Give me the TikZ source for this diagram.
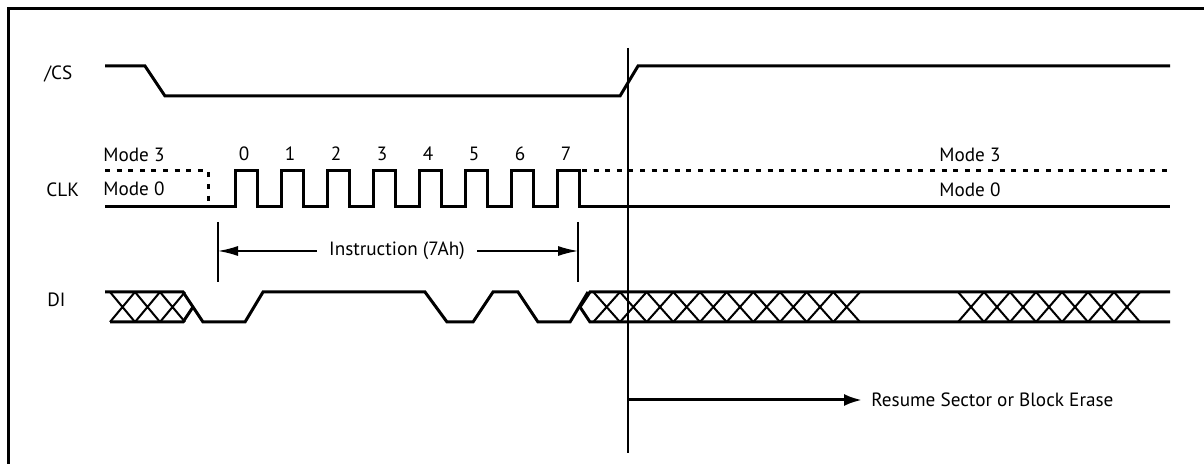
\documentclass[tikz,border=0pt]{standalone}
\usepackage{fontspec}
\setmainfont{PT Sans}
\usetikzlibrary{arrows.meta}

\begin{document}
\begin{tikzpicture}[x=0.5pt, y=-0.5pt,
    sig/.style={line width=1.5pt},
    dots/.style={line width=1.5pt, dash pattern=on 2.5pt off 3.3pt},
    xing/.style={line width=1pt},
    lbl/.style={font=\fontsize{9.6}{11}\selectfont, inner sep=0pt},
    arr/.style={line width=0.75pt, -{Latex[length=10pt, width=5pt]}}]
    \useasboundingbox (0,0) rectangle (1204,464);
    % frame
    \draw[line width=1.5pt] (8,464) -- (8,9) -- (1204,9);

    % signal names
    \node[lbl, anchor=west] (cs) at (44,74) {/CS};
    \node[lbl, anchor=west] (clk) at (46,190) {CLK};
    \node[lbl, anchor=west] (di) at (47,300) {DI};

    % /CS
    \draw[sig] (105,66) -- (145,66) -- (165,96) -- (620,96) -- (638,66) -- (1170,66);

    % CLK: modes and pulses
    \node[lbl, anchor=west] (m3a) at (103,155) {Mode 3};
    \node[lbl, anchor=west] (m0a) at (103,189) {Mode 0};
    \node[lbl] (m3b) at (970,155) {Mode 3};
    \node[lbl] (m0b) at (970,190) {Mode 0};
    \draw[dots] (105,171) -- (208,171) -- (208,207);
    \draw[sig] (105,207) -- (235,207)
        \foreach \k in {0,...,7} { -- ++(0,-36) -- ++(22,0) -- ++(0,36) -- ++(24,0) }
        -- (1170,207);
    \draw[dots] (582,171) -- (1170,171);
    \foreach \k in {0,...,7}
        \node[lbl] (n\k) at (244+46*\k,154) {\k};

    % instruction span
    \coordinate (lbar) at (218,251);
    \coordinate (rbar) at (578,251);
    \draw[line width=1.2pt] (218,222) -- (218,282);
    \draw[line width=1.2pt] (578,222) -- (578,282);
    \node[lbl, inner xsep=6pt] (instr) at (397,251) {Instruction (7Ah)};
    \draw[arr] (instr.west) -- (lbar);
    \draw[arr] (instr.east) -- (rbar);

    % DI
    \draw[sig] (105,292) -- (183,292) -- (203,322) -- (245,322) -- (263,292) -- (425,292)
        -- (447,322) -- (473,322) -- (493,292) -- (518,292) -- (538,322) -- (570,322) -- (588,292);
    \draw[sig] (110,322) -- (183,322) -- (193,307);
    \draw[sig] (580,307) -- (590,292) -- (1170,292);
    \draw[sig] (580,307) -- (590,322) -- (1170,322);
    \foreach \k in {0,1,2}
        \draw[xing] (110+25*\k,292) -- ++(25,30) (110+25*\k,322) -- ++(25,-30);
    \foreach \k in {0,...,9}
        \draw[xing] (593.3+26.67*\k,292) -- ++(26.67,30) (593.3+26.67*\k,322) -- ++(26.67,-30);
    \foreach \k in {0,...,6}
        \draw[xing] (958+26*\k,292) -- ++(26,30) (958+26*\k,322) -- ++(26,-30);

    % end of instruction marker
    \coordinate (vtop) at (628,48);
    \coordinate (vbot) at (628,453);
    \draw[line width=1.2pt] (vtop) -- (vbot);

    % resume
    \coordinate (rs) at (628,400);
    \node[lbl, anchor=west, inner xsep=4.5pt] (resume) at (862,400) {Resume Sector or Block Erase};
    \draw[line width=1.5pt, -{Latex[length=9pt, width=6pt]}] (rs) -- (resume.west);
\end{tikzpicture}
\end{document}
